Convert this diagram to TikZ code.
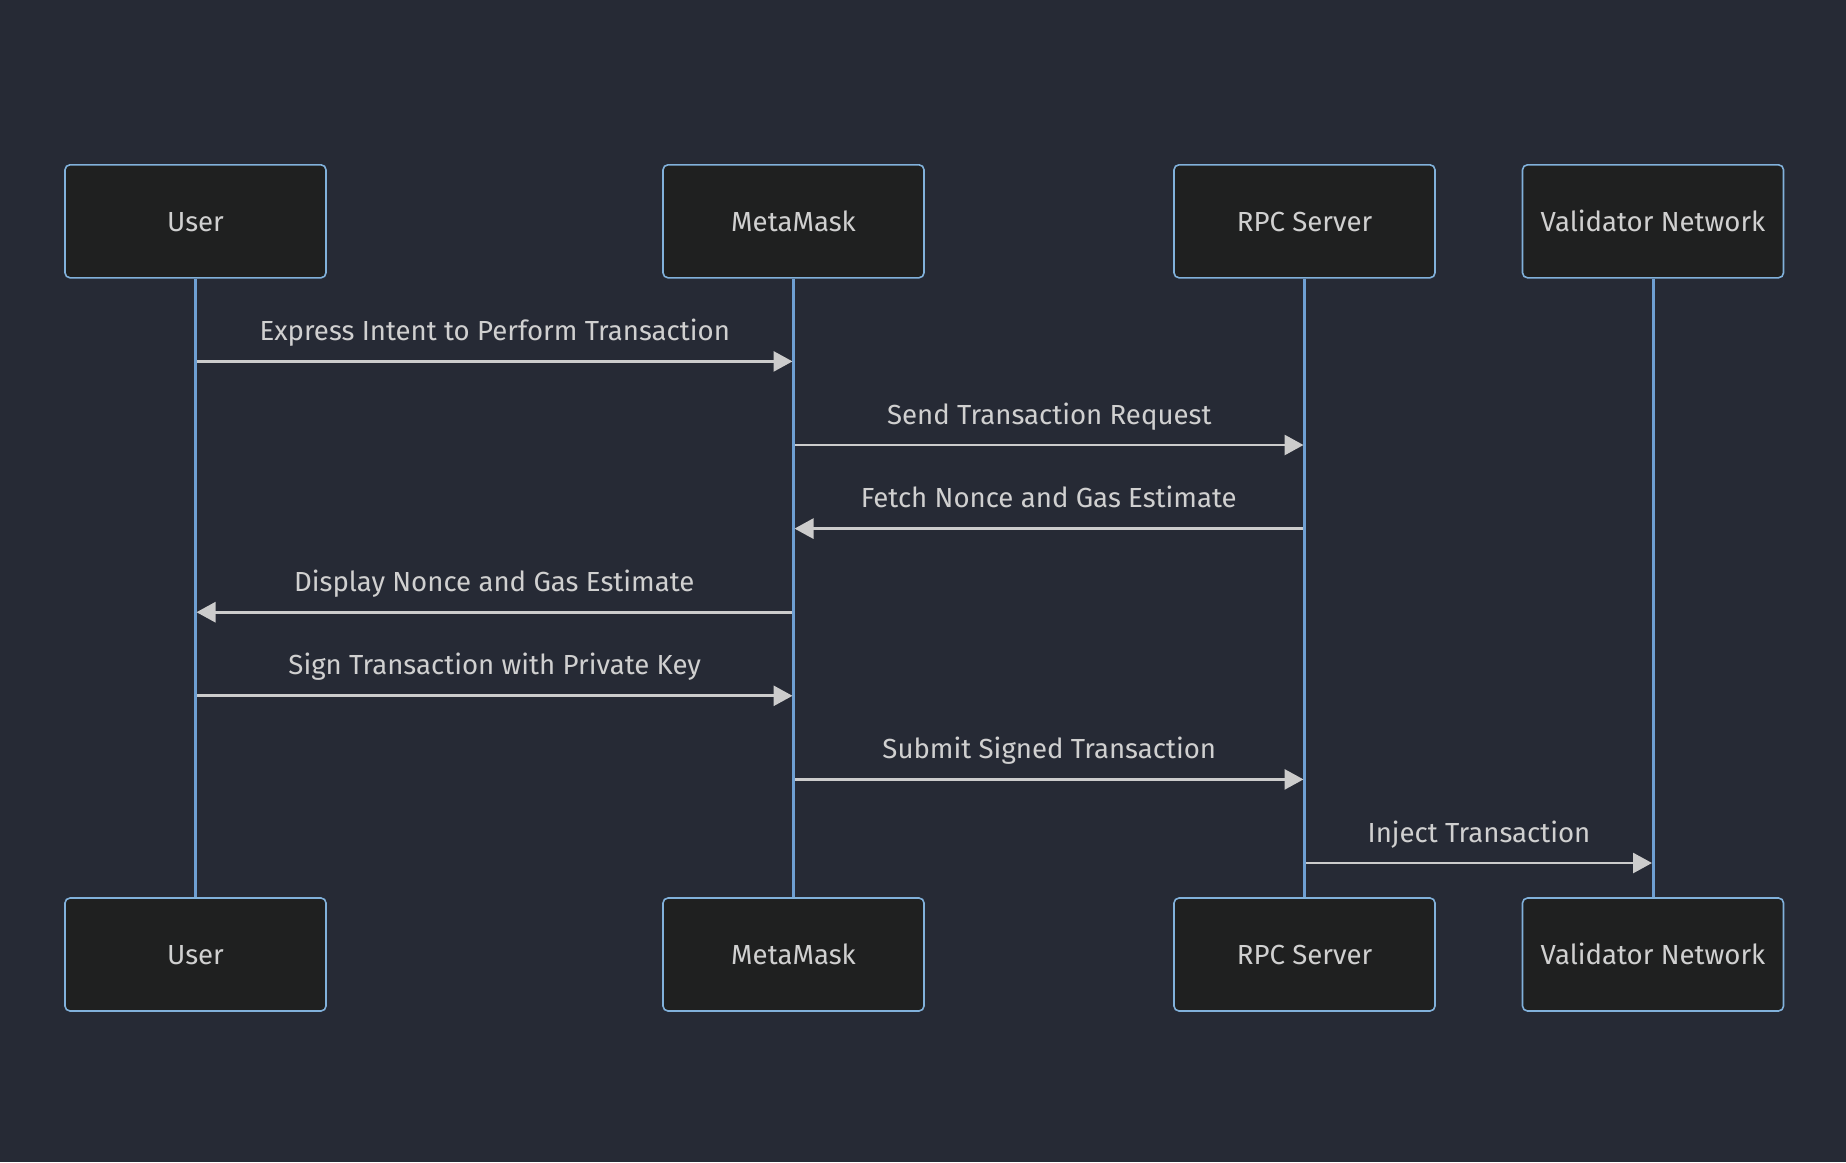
\documentclass[tikz,border=0pt]{standalone}
\usepackage{fontspec}
\setmainfont{Fira Sans}
\usetikzlibrary{arrows.meta}
\definecolor{bgc}{HTML}{262A35}
\definecolor{boxfill}{HTML}{1F2020}
\definecolor{boxline}{HTML}{81B1DB}
\definecolor{lifec}{HTML}{6E9FD2}
\definecolor{msgc}{HTML}{CCCCCC}
\definecolor{txtc}{HTML}{D0D0D0}
\tikzset{
  actor/.style={draw=boxline, fill=boxfill, line width=1.6pt, rounded corners=5pt,
    minimum width=261pt, minimum height=113pt, inner sep=0pt,
    text=txtc, font=\fontsize{27.6}{32}\selectfont, text height=20pt, text depth=0pt},
  life/.style={draw=lifec, line width=3pt},
  msg/.style={draw=msgc, line width=2.8pt, -{Triangle[length=19pt,width=20pt]}},
  msglabel/.style={text=txtc, font=\fontsize{27.6}{32}\selectfont, anchor=base, inner sep=0pt}
}
\begin{document}
\begin{tikzpicture}[x=1pt,y=-1pt]
\fill[bgc] (0,0) rectangle (1846,1162);
\useasboundingbox (0,0) rectangle (1846,1162);
% top actors
\node[actor] (u1) at (195.5,221.3) {User};
\node[actor] (m1) at (793.5,221.3) {MetaMask};
\node[actor] (r1) at (1304.5,221.3) {RPC Server};
\node[actor] (v1) at (1653,221.3) {Validator Network};
% bottom actors
\node[actor] (u2) at (195.5,954.5) {User};
\node[actor] (m2) at (793.5,954.5) {MetaMask};
\node[actor] (r2) at (1304.5,954.5) {RPC Server};
\node[actor] (v2) at (1653,954.5) {Validator Network};
% lifelines
\path[life] (u1.south) -- (u2.north);
\path[life] (m1.south) -- (m2.north);
\path[life] (r1.south) -- (r2.north);
\path[life] (v1.south) -- (v2.north);
% message end points
\coordinate (u-1) at (u1 |- 0,361.4);
\coordinate (m-1) at (m1 |- 0,361.4);
\coordinate (m-2) at (m1 |- 0,445);
\coordinate (r-2) at (r1 |- 0,445);
\coordinate (r-3) at (r1 |- 0,528.6);
\coordinate (m-3) at (m1 |- 0,528.6);
\coordinate (m-4) at (m1 |- 0,612.2);
\coordinate (u-4) at (u1 |- 0,612.2);
\coordinate (u-5) at (u1 |- 0,695.8);
\coordinate (m-5) at (m1 |- 0,695.8);
\coordinate (m-6) at (m1 |- 0,779.4);
\coordinate (r-6) at (r1 |- 0,779.4);
\coordinate (r-7) at (r1 |- 0,863);
\coordinate (v-7) at (v1 |- 0,863);
% messages
\draw[msg] ([xshift=1.5pt]u-1) -- ([xshift=-1pt]m-1) node[msglabel, midway, yshift=21pt] (l1) {Express Intent to Perform Transaction};
\draw[msg] ([xshift=1.5pt]m-2) -- ([xshift=-1pt]r-2) node[msglabel, midway, yshift=21pt] (l2) {Send Transaction Request};
\draw[msg] ([xshift=-1.5pt]r-3) -- ([xshift=1pt]m-3) node[msglabel, midway, yshift=21pt] (l3) {Fetch Nonce and Gas Estimate};
\draw[msg] ([xshift=-1.5pt]m-4) -- ([xshift=1pt]u-4) node[msglabel, midway, yshift=21pt] (l4) {Display Nonce and Gas Estimate};
\draw[msg] ([xshift=1.5pt]u-5) -- ([xshift=-1pt]m-5) node[msglabel, midway, yshift=21pt] (l5) {Sign Transaction with Private Key};
\draw[msg] ([xshift=1.5pt]m-6) -- ([xshift=-1pt]r-6) node[msglabel, midway, yshift=21pt] (l6) {Submit Signed Transaction};
\draw[msg] ([xshift=1.5pt]r-7) -- ([xshift=-1pt]v-7) node[msglabel, midway, yshift=21pt] (l7) {Inject Transaction};
\end{tikzpicture}
\end{document}
